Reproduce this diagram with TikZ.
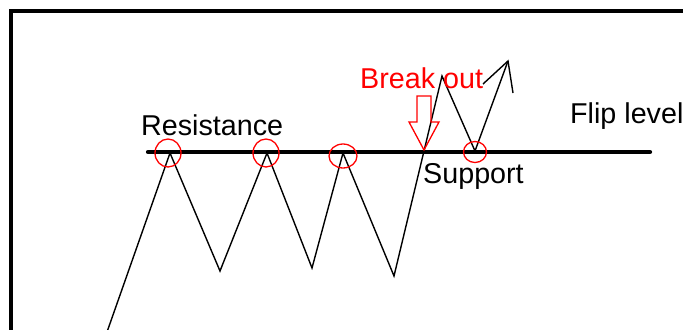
\documentclass[tikz,border=0pt]{standalone}
\usepackage{fontspec}
\setmainfont{Liberation Sans}
\begin{document}
\begin{tikzpicture}[x=1bp,y=-1bp,
  lbl/.style={inner sep=0pt,anchor=base west,font=\fontsize{28.8}{30}\selectfont},
  price/.style={line width=1.4bp,line join=miter},
  ring/.style={draw=red,line width=1.3bp},
]
\useasboundingbox (0,0) rectangle (683,329);
% frame
\draw[line width=4bp] (10.5,340) -- (10.5,10.5) -- (690,10.5);
% level line
\coordinate (L1) at (148,152);
\coordinate (L2) at (650,152);
\draw[line width=4.2bp,line cap=round] (L1) -- (L2);
% price path
\coordinate (p0) at (107,332);
\coordinate (p1) at (170,153);
\coordinate (p2) at (220,271);
\coordinate (p3) at (267,153);
\coordinate (p4) at (312,268);
\coordinate (p5) at (343,153);
\coordinate (p6) at (394,276);
\coordinate (p7) at (442,76);
\coordinate (p8) at (475,151);
\coordinate (p9) at (508,61);
\coordinate (b1) at (483,84);
\coordinate (b2) at (513,93);
\draw[price] (p0) -- (p1) -- (p2) -- (p3) -- (p4) -- (p5) -- (p6) -- (p7) -- (p8) -- (p9);
\draw[price] (b1) -- (p9) -- (b2);
% circles
\draw[ring] (168,153) ellipse [x radius=13bp, y radius=14bp];
\draw[ring] (266,153) ellipse [x radius=13bp, y radius=14bp];
\draw[ring] (343,156) ellipse [x radius=14bp, y radius=12bp];
\draw[ring] (475,152) ellipse [x radius=11.5bp, y radius=10.5bp];
% breakout arrow
\draw[red,line width=1.3bp,line join=miter] (417,96) -- (431,96) -- (431,122) -- (439,122) -- (424,150) -- (409,122) -- (417,122) -- cycle;
% labels
\node[lbl] (res) at (141,135) {Resistance};
\node[lbl,text=red] (brk) at (360,88) {Break out};
\node[lbl] (sup) at (423,183) {Support};
\node[lbl] (flip) at (570,123) {Flip level};
\end{tikzpicture}
\end{document}
